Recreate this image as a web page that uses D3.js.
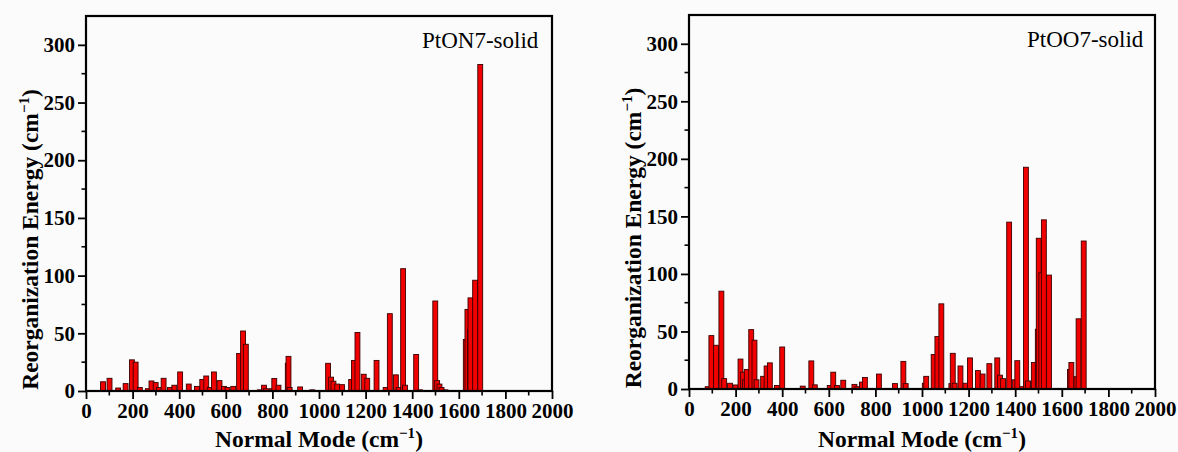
<!DOCTYPE html>
<html>
<head>
<meta charset="utf-8">
<script src="https://cdn.jsdelivr.net/npm/d3@7"></script>
<style>
  html, body { margin: 0; padding: 0; background: #fbfbfb; }
  svg { display: block; }
  text { font-family: "Liberation Serif", "Times New Roman", serif; fill: #000; }
</style>
</head>
<body>
<svg id="chart" width="1178" height="452"></svg>
<script>
// PtON7-solid: normal-mode frequencies (cm-1) and reorganization energies (cm-1)
const ptonFreq = [73, 101, 138, 170, 197, 213, 231, 266, 281, 299, 313, 333, 360, 379, 404, 441, 476, 499, 516, 531, 549, 573, 592, 607, 632, 657, 674, 686,
  746, 764, 772, 797, 808, 826, 866, 869, 874, 919, 971, 1039, 1052, 1062, 1078, 1099, 1138, 1150, 1165, 1192, 1207, 1247, 1286, 1304, 1330, 1342, 1361, 1369,
  1417, 1434, 1499, 1507, 1517, 1526, 1543, 1630, 1637, 1648, 1650, 1670, 1692];
const ptonVal = [8, 11, 2.6, 6.4, 27, 25, 3, 2, 8.7, 7.3, 3, 11, 3, 5, 16.5, 6, 4, 10, 13, 3, 16.5, 9, 4, 3, 4, 32.5, 52, 40.5,
  1, 5, 2, 2, 10.8, 5, 24, 30, 3, 3.5, 1, 24, 12, 8.5, 6, 5.5, 10, 26.5, 50.7, 14.5, 11, 26.5, 3, 67, 14, 3, 106, 5,
  31.6, 1, 78, 9, 6, 3, 1, 44.6, 70.7, 53, 80.7, 96, 283];

// PtOO7-solid
const ptooFreq = [80, 96, 116, 139, 151, 176, 200, 221, 232, 240, 248, 267, 281, 290, 318, 333, 347, 377, 400, 488, 525, 540, 604, 619, 635, 662, 710, 722,
  742, 755, 815, 884, 920, 930, 1012, 1018, 1050, 1066, 1083, 1126, 1132, 1140, 1165, 1187, 1206, 1240, 1260, 1289, 1323, 1335, 1348, 1374, 1398, 1409,
  1430, 1446, 1455, 1474, 1480, 1497, 1501, 1512, 1523, 1545, 1635, 1641, 1663, 1672, 1694];
const ptooVal = [2, 46.4, 38, 85, 9, 5, 3.5, 26, 14.6, 8, 17, 51.6, 42.4, 8, 11, 20, 22.7, 3, 36.5, 2.5, 24.4, 3.6, 3, 14.6, 3, 7.6, 4, 2,
  6, 10, 13, 4.7, 24, 4.7, 5, 11, 30, 45.6, 74, 4.7, 31, 5, 20, 5, 27, 16, 13, 22, 27, 12, 9, 145, 8, 24.6,
  2, 192.7, 7, 2, 23, 52, 131, 101, 147, 99, 17, 23, 10.7, 61, 128.6];

const xTicks = [0, 200, 400, 600, 800, 1000, 1200, 1400, 1600, 1800, 2000];
const yTicks = [0, 50, 100, 150, 200, 250, 300];
const xDomain = [0, 2000];
const yDomain = [0, 325];
const barWidth = 21; // in cm-1

const svg = d3.select("#chart");

function panel(opts) {
  const { left, right, top, bottom, freq, val, label, labelX, titleX } = opts;
  const x = d3.scaleLinear().domain(xDomain).range([left, right]);
  const y = d3.scaleLinear().domain(yDomain).range([bottom, top]);
  const g = svg.append("g");

  // bars
  g.append("g").selectAll("rect")
    .data(freq.map((f, i) => ({ f, v: val[i] })))
    .join("rect")
    .attr("x", d => x(d.f - barWidth / 2))
    .attr("width", x(barWidth) - x(0))
    .attr("y", d => y(d.v))
    .attr("height", d => y(0) - y(d.v))
    .attr("fill", "#f20000")
    .attr("stroke", "#3a0000")
    .attr("stroke-width", 0.9);

  // minor ticks
  const xMinor = d3.range(100, 2000, 200);
  const yMinor = d3.range(25, 325, 50);
  g.append("g").selectAll("line").data(xMinor).join("line")
    .attr("x1", d => x(d)).attr("x2", d => x(d))
    .attr("y1", bottom).attr("y2", bottom + 4.5)
    .attr("stroke", "#000").attr("stroke-width", 1.6);
  g.append("g").selectAll("line").data(yMinor).join("line")
    .attr("y1", d => y(d)).attr("y2", d => y(d))
    .attr("x1", left).attr("x2", left - 4.5)
    .attr("stroke", "#000").attr("stroke-width", 1.6);

  // major axes
  const xAxis = d3.axisBottom(x).tickValues(xTicks).tickSize(8).tickPadding(4).tickFormat(d3.format("d"));
  const yAxis = d3.axisLeft(y).tickValues(yTicks).tickSize(8).tickPadding(3).tickFormat(d3.format("d"));
  const gx = g.append("g").attr("transform", `translate(0,${bottom})`).call(xAxis);
  const gy = g.append("g").attr("transform", `translate(${left},0)`).call(yAxis);
  [gx, gy].forEach(a => {
    a.select(".domain").remove();
    a.selectAll(".tick line").attr("stroke", "#000").attr("stroke-width", 1.8);
    a.selectAll(".tick text")
      .attr("font-family", "Liberation Serif, Times New Roman, serif")
      .attr("font-size", 21).attr("font-weight", "bold").attr("fill", "#000");
  });

  // frame
  g.append("rect")
    .attr("x", left).attr("y", top)
    .attr("width", right - left).attr("height", bottom - top)
    .attr("fill", "none").attr("stroke", "#000").attr("stroke-width", 2.2);

  // panel label
  g.append("text").attr("x", labelX).attr("y", top + 32)
    .attr("font-size", 23).text(label);

  // x title
  const xt = g.append("text").attr("x", (left + right) / 2).attr("y", 447)
    .attr("text-anchor", "middle").attr("font-size", 23.5).attr("font-weight", "bold");
  xt.append("tspan").text("Normal Mode (cm");
  xt.append("tspan").attr("font-size", 15).attr("dy", -9).text("\u22121");
  xt.append("tspan").attr("dy", 9).text(")");

  // y title
  const yt = g.append("text")
    .attr("transform", `translate(${titleX},${(top + bottom) / 2 + 36}) rotate(-90)`)
    .attr("text-anchor", "middle").attr("font-size", 23.5).attr("font-weight", "bold");
  yt.append("tspan").text("Reorganization Energy (cm");
  yt.append("tspan").attr("font-size", 15).attr("dy", -9).text("\u22121");
  yt.append("tspan").attr("dy", 9).text(")");
}

panel({ left: 86, right: 552, top: 16, bottom: 391, freq: ptonFreq, val: ptonVal,
  label: "PtON7-solid", labelX: 422, titleX: 38 });
panel({ left: 689, right: 1155, top: 15, bottom: 389, freq: ptooFreq, val: ptooVal,
  label: "PtOO7-solid", labelX: 1027, titleX: 641 });
</script>
</body>
</html>
